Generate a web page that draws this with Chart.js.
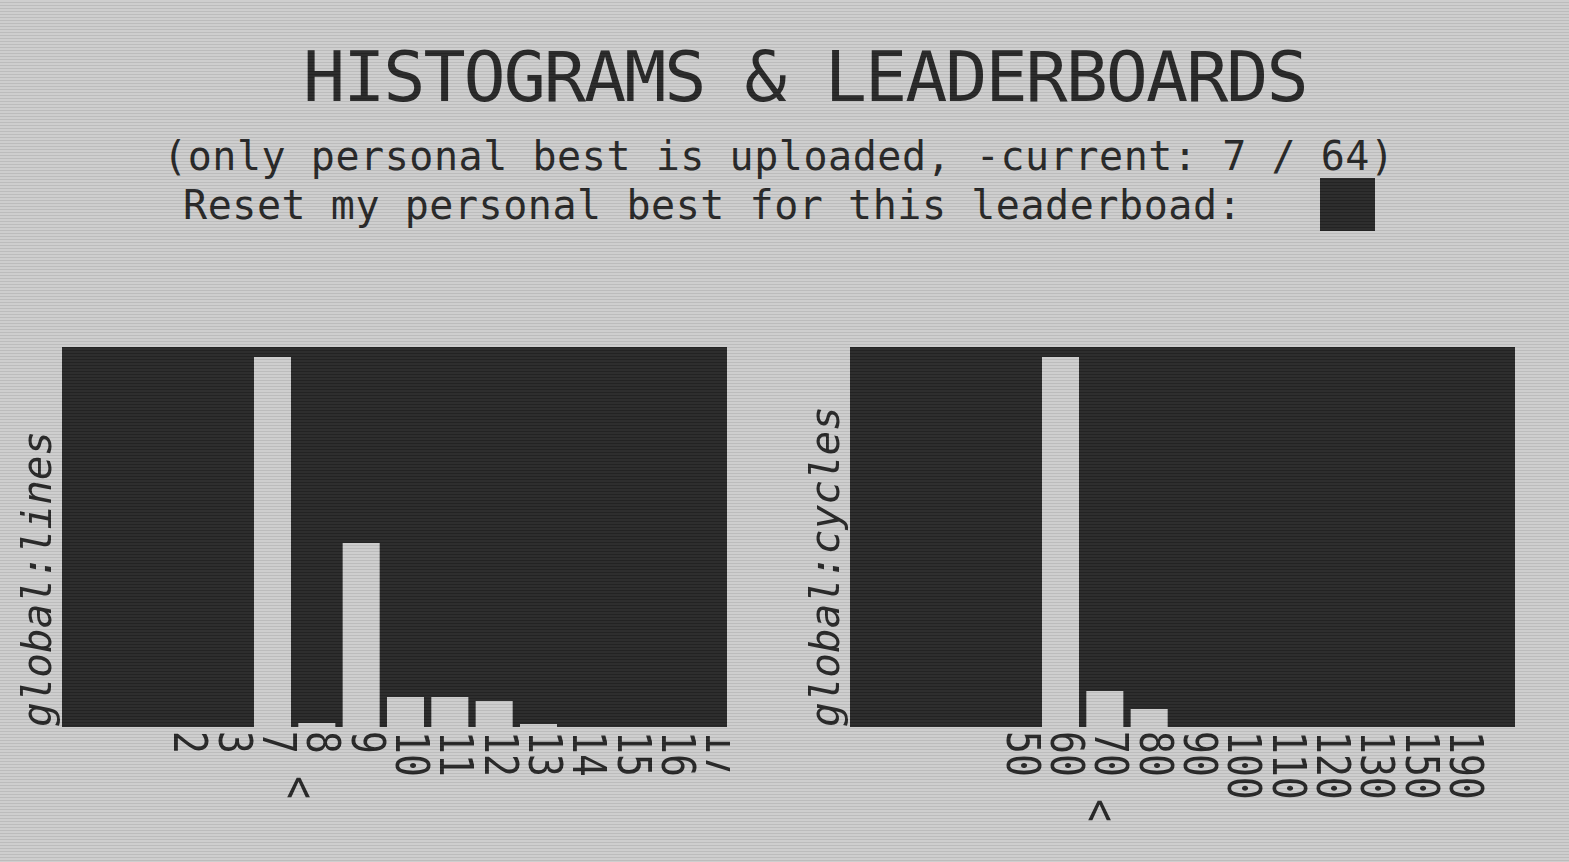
<!DOCTYPE html>
<html>
<head>
<meta charset="utf-8">
<title>Histograms & Leaderboards</title>
<script src="https://cdn.jsdelivr.net/npm/chart.js@4/dist/chart.umd.min.js"></script>
<style>
    html, body {
        margin: 0;
        padding: 0;
        width: 1569px;
        height: 862px;
        overflow: hidden;
        background: #cdcdcd;
        font-family: "DejaVu Sans Mono", monospace;
        color: #262626;
    }
    .line {
        position: absolute;
        white-space: pre;
        line-height: 1;
    }
    #title { left: 303px; top: 42px; font-size: 70px; letter-spacing: -2px; }
    #sub1 { left: 163px; top: 136px; font-size: 40px; letter-spacing: 0.55px; }
    #sub2 { left: 183px; top: 185px; font-size: 40px; letter-spacing: 0.55px; }
    #reset-box {
        position: absolute;
        left: 1320px; top: 178px;
        width: 55px; height: 53px;
        background: #262626;
    }
    .chart-box { position: absolute; top: 330px; }
    #scanlines {
        position: absolute;
        left: 0; top: 0; width: 1569px; height: 862px;
        pointer-events: none;
        background: repeating-linear-gradient(to bottom,
            rgba(255, 255, 255, 0.04) 0px, rgba(255, 255, 255, 0.04) 2px,
            rgba(0, 0, 0, 0.08) 2px, rgba(0, 0, 0, 0.08) 3px);
    }
</style>
</head>
<body>
<div id="title" class="line">HISTOGRAMS &amp; LEADERBOARDS</div>
<div id="sub1" class="line">(only personal best is uploaded, -current: 7 / 64)</div>
<div id="sub2" class="line">Reset my personal best for this leaderboad:</div>
<div id="reset-box"></div>

<div class="chart-box" style="left:0px"><canvas id="lines-chart" width="760" height="497"></canvas></div>
<div class="chart-box" style="left:788px"><canvas id="cycles-chart" width="760" height="497"></canvas></div>
<div id="scanlines"></div>

<script>
// Histogram bins
const linesLabels = ['', '', '2', '3', '7', '8', '9', '10', '11', '12', '13', '14', '15', '16', '17'];
const linesCounts = [0, 0, 0, 0, 370, 4, 184, 30, 30, 26, 3, 0, 0, 0, 0];

const cyclesLabels = ['', '', '', '50', '60', '70', '80', '90', '100', '110', '120', '130', '150', '190', ''];
const cyclesCounts = [0, 0, 0, 0, 370, 36, 18, 0, 0, 0, 0, 0, 0, 0, 0];

// Where the "current" marker sits, in bin units
const linesCurrent = 4.47;
const cyclesCurrent = 4.76;

const countMax = 380;

const INK = '#262626';
const BAR = '#cdcdcd';
const LABEL_SIZE = 38;
const LABEL_STRETCH = 1.2;
const LABEL_ROW = 23;

// Dark plot background, shifted a little left of the bin grid
const plotBackground = {
    id: 'plotBackground',
    beforeDatasetsDraw(chart) {
        const { ctx, chartArea } = chart;
        ctx.save();
        ctx.fillStyle = INK;
        ctx.fillRect(chartArea.left - 11, chartArea.top, chartArea.width, chartArea.height);
        ctx.restore();
    }
};

// Draw one string rotated +90deg, glyphs centred on x
function drawRotated(ctx, text, x, y) {
    ctx.save();
    ctx.translate(x + 7 - 0.365 * LABEL_SIZE * LABEL_STRETCH, y);
    ctx.rotate(Math.PI / 2);
    ctx.scale(1, LABEL_STRETCH);
    ctx.fillText(text, 0, 0);
    ctx.restore();
}

// Rotated bin labels plus the "current" marker
const binLabels = {
    id: 'binLabels',
    afterDraw(chart, args, opts) {
        const { ctx, chartArea } = chart;
        const xScale = chart.scales.x;
        const labels = chart.data.labels;
        ctx.save();
        ctx.beginPath();
        ctx.rect(0, chartArea.bottom, chartArea.right - 8, 200);
        ctx.clip();
        ctx.fillStyle = INK;
        ctx.font = LABEL_SIZE + 'px "DejaVu Sans Mono"';
        ctx.textAlign = 'left';
        ctx.textBaseline = 'alphabetic';
        let rows = 0;
        labels.forEach((label, i) => {
            if (!label) return;
            rows = Math.max(rows, label.length);
            drawRotated(ctx, label, xScale.getPixelForValue(i), chartArea.bottom + 4);
        });
        drawRotated(ctx, '<', xScale.getPixelForValue(opts.current), chartArea.bottom + 3 + rows * LABEL_ROW);
        ctx.restore();
    }
};

function makeHistogram(canvasId, labels, counts, axisTitle, current) {
    const ctx = document.getElementById(canvasId).getContext('2d');
    return new Chart(ctx, {
        type: 'bar',
        data: {
            labels: labels,
            datasets: [{
                data: counts,
                backgroundColor: BAR,
                borderWidth: 0,
                barPercentage: 0.835,
                categoryPercentage: 1.0
            }]
        },
        options: {
            responsive: false,
            animation: false,
            layout: { padding: { top: 17, right: 22, left: 0, bottom: 0 } },
            plugins: {
                legend: { display: false },
                tooltip: { enabled: false },
                binLabels: { current: current }
            },
            scales: {
                x: {
                    grid: { display: false },
                    border: { display: false },
                    ticks: { display: false },
                    afterFit: (scale) => { scale.height = 100; }
                },
                y: {
                    min: 0,
                    max: countMax,
                    grid: { display: false },
                    border: { display: false },
                    ticks: { display: false },
                    title: {
                        display: true,
                        text: axisTitle,
                        align: 'start',
                        color: INK,
                        font: { family: 'DejaVu Sans Mono', size: 41, style: 'italic', lineHeight: 1 },
                        padding: { top: 20, bottom: 0 }
                    },
                    afterFit: (scale) => { scale.width = 73; }
                }
            }
        },
        plugins: [plotBackground, binLabels]
    });
}

document.addEventListener('DOMContentLoaded', () => {
    makeHistogram('lines-chart', linesLabels, linesCounts, 'global:lines', linesCurrent);
    makeHistogram('cycles-chart', cyclesLabels, cyclesCounts, 'global:cycles', cyclesCurrent);
});
</script>
</body>
</html>
